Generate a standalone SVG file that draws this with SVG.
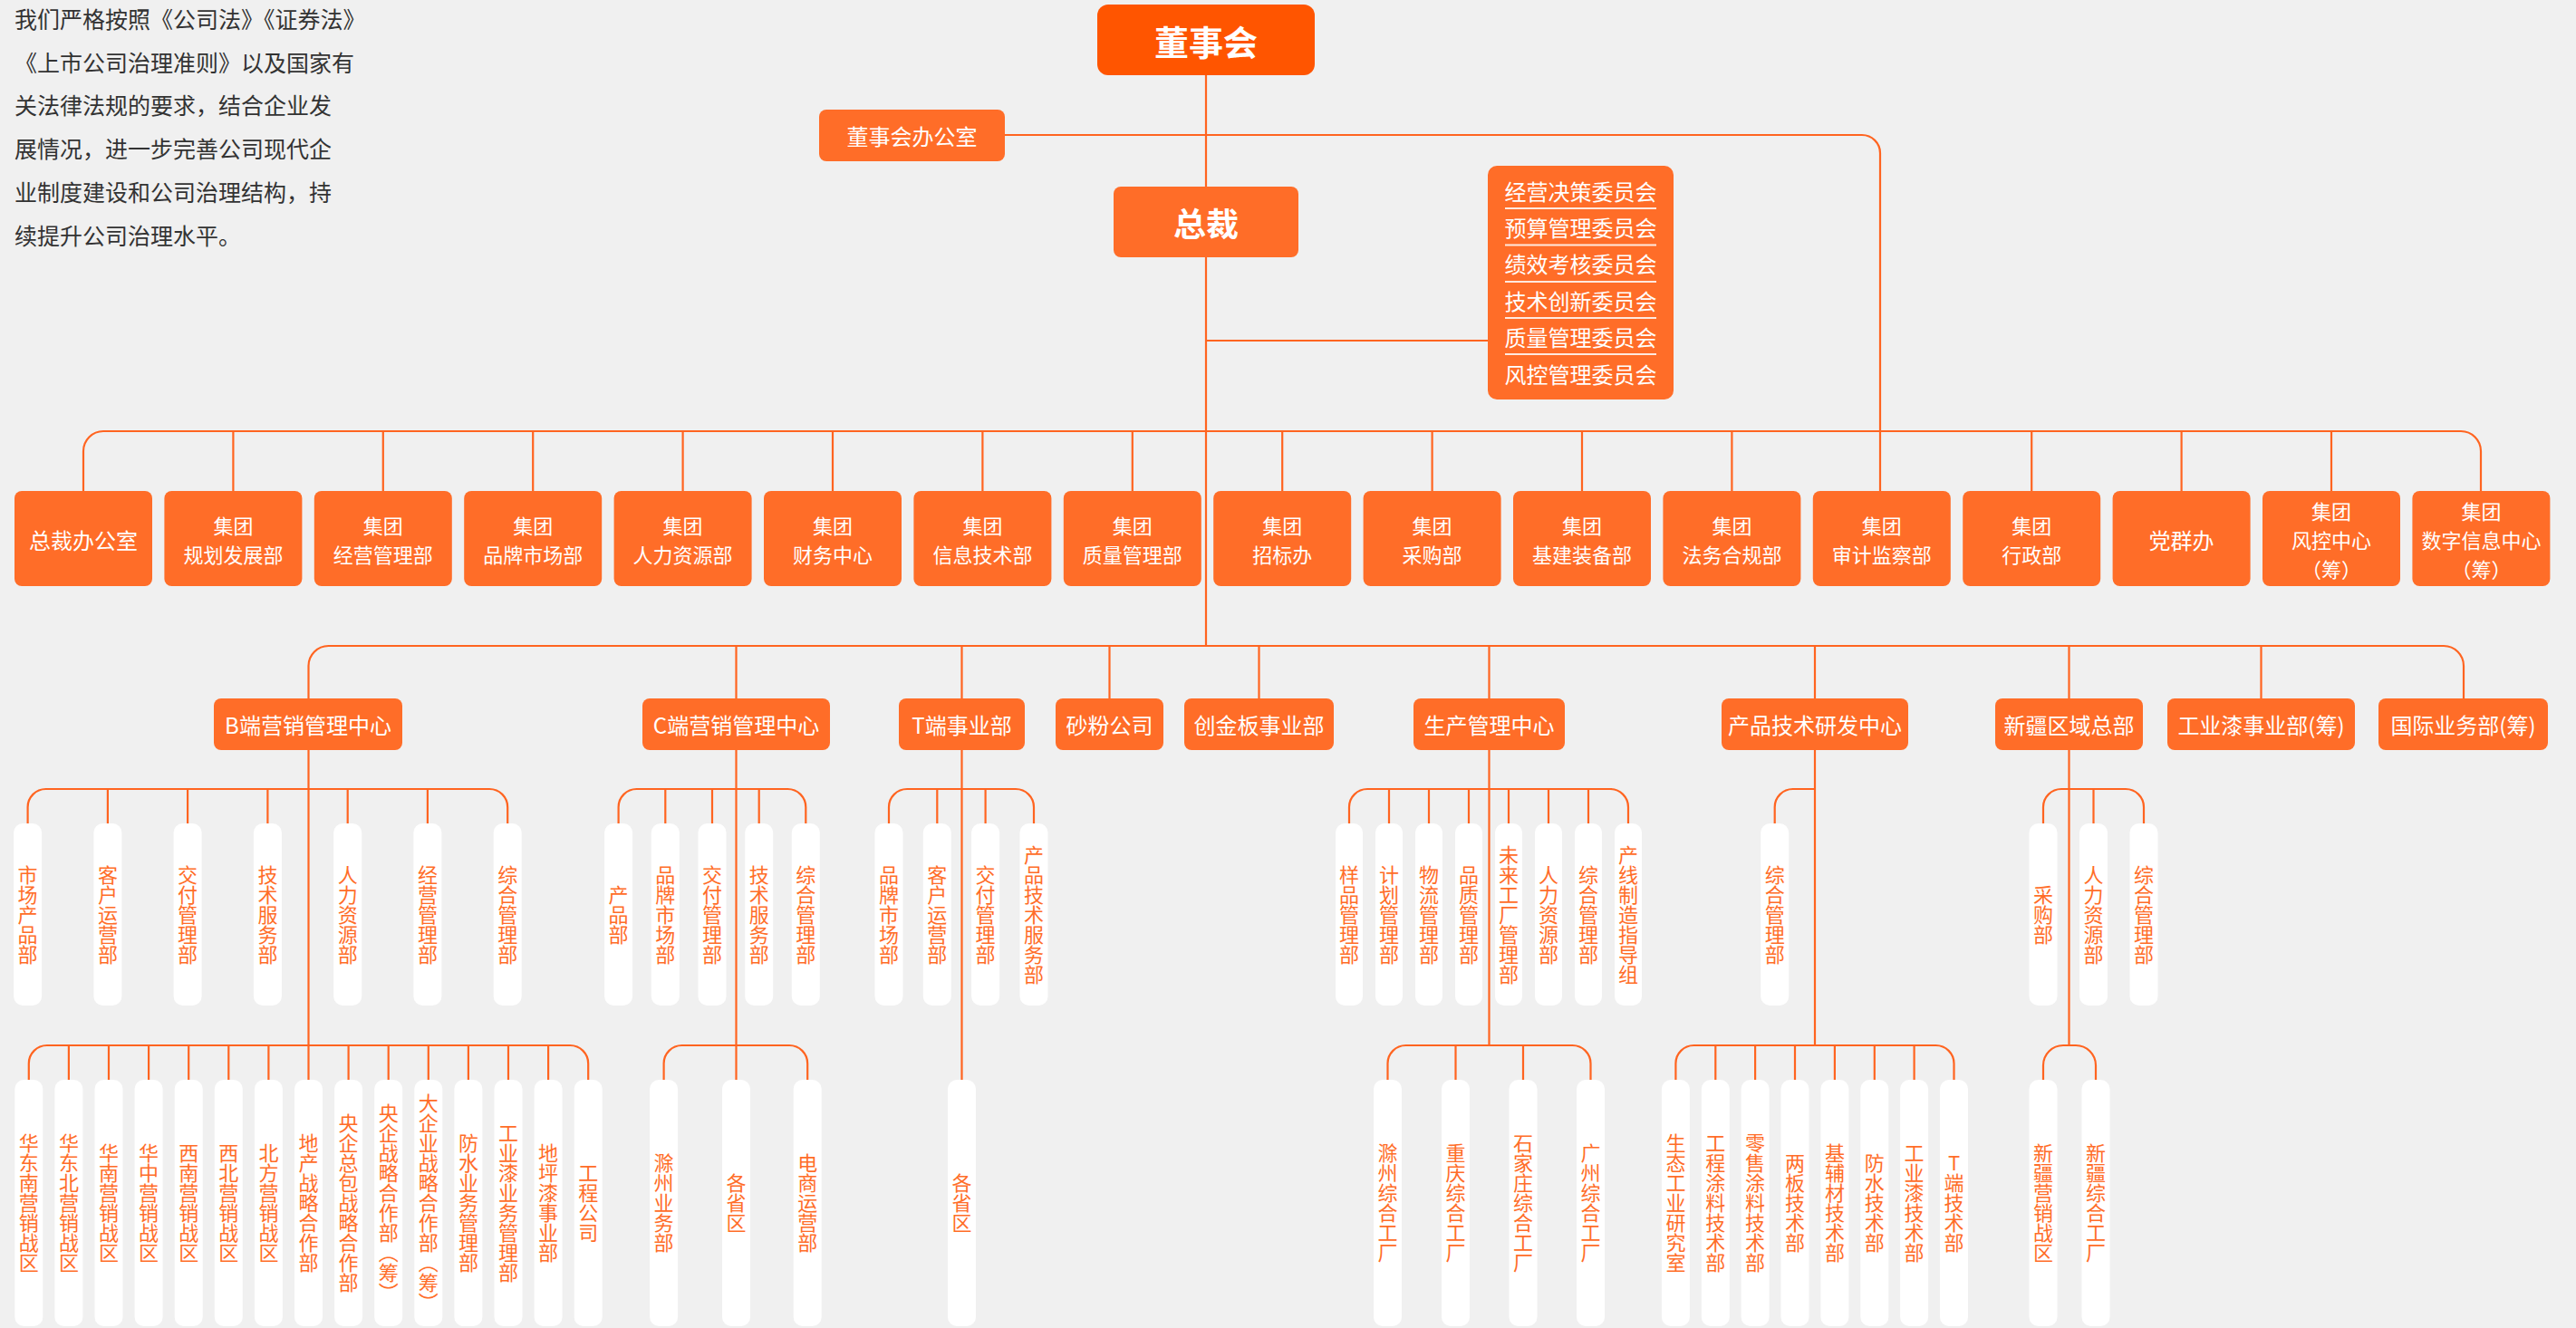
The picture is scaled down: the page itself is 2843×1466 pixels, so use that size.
<svg xmlns="http://www.w3.org/2000/svg" width="2843" height="1466" viewBox="0 0 2843 1466">
<style>
.bg{fill:#f0f0f0}
.box{fill:#ff6d28}
.top{fill:#ff5500}
.pill{fill:#ffffff}
.ln{stroke:#ff6420;stroke-width:2.2;fill:none}
.sep{stroke:#ffffff;stroke-width:2;opacity:0.85}
text{font-family:"Noto Sans CJK SC","Noto Sans",sans-serif}
.t{fill:#ffffff;font-size:24px;text-anchor:middle;dominant-baseline:central}
.d{fill:#ffffff;font-size:22px;text-anchor:middle;dominant-baseline:central}
.tb{fill:#ffffff;font-weight:bold;text-anchor:middle;dominant-baseline:central}
.p{fill:#333333;font-size:25px;dominant-baseline:central}
.v{fill:#ff6d28;font-size:22px;text-anchor:middle;writing-mode:vertical-rl;text-orientation:upright}
</style>
<rect class="bg" x="0" y="0" width="2843" height="1466"/>

<g id="intro">
<text class="p" x="16" y="20">我们严格按照《公司法》《证券法》</text>
<text class="p" x="16" y="67.7">《上市公司治理准则》以及国家有</text>
<text class="p" x="16" y="115.4">关法律法规的要求，结合企业发</text>
<text class="p" x="16" y="163.1">展情况，进一步完善公司现代企</text>
<text class="p" x="16" y="210.8">业制度建设和公司治理结构，持</text>
<text class="p" x="16" y="258.5">续提升公司治理水平。</text>
</g>

<g id="connectors">
<path class="ln" d="M1331,83 V713"/>
<path class="ln" d="M1109,149 H2055 A20,20 0 0 1 2075,169 V542"/>
<path class="ln" d="M1331,376 H1642"/>
<path class="ln" d="M92,542 V498 A22,22 0 0 1 114,476 H2716 A22,22 0 0 1 2738,498 V542"/>
<path class="ln" d="M257.4,476 V542 M422.8,476 V542 M588.2,476 V542 M753.6,476 V542 M919,476 V542 M1084.4,476 V542 M1249.8,476 V542 M1415.2,476 V542 M1580.6,476 V542 M1746,476 V542 M1911.4,476 V542 M2242.2,476 V542 M2407.6,476 V542 M2573,476 V542"/>
<path class="ln" d="M340.5,771 V735 A22,22 0 0 1 362.5,713 H2697 A22,22 0 0 1 2719,735 V771"/>
<path class="ln" d="M812.5,713 V771 M1061.5,713 V771 M1224.5,713 V771 M1389.5,713 V771 M1643.5,713 V771 M2003,713 V771 M2283.5,713 V771 M2495.5,713 V771"/>
<path class="ln" d="M340.5,828 V1192 M812.5,828 V1192 M1061.5,828 V1192 M1643.5,828 V1154 M2003,828 V1154 M2283.5,828 V1154"/>
<path class="ln" d="M30.6,909 V891 A20,20 0 0 1 50.6,871 H540.2 A20,20 0 0 1 560.2,891 V909 M118.9,871 V909 M207.1,871 V909 M295.4,871 V909 M383.7,871 V909 M471.9,871 V909"/>
<path class="ln" d="M682.6,909 V891 A20,20 0 0 1 702.6,871 H869.3 A20,20 0 0 1 889.3,891 V909 M734.3,871 V909 M786,871 V909 M837.7,871 V909"/>
<path class="ln" d="M981,909 V891 A20,20 0 0 1 1001,871 H1121 A20,20 0 0 1 1141,891 V909 M1034.3,871 V909 M1087.6,871 V909"/>
<path class="ln" d="M1489,909 V891 A20,20 0 0 1 1509,871 H1777 A20,20 0 0 1 1797,891 V909 M1533,871 V909 M1577,871 V909 M1621,871 V909 M1665,871 V909 M1709,871 V909 M1753,871 V909"/>
<path class="ln" d="M1958.7,909 V891 A20,20 0 0 1 1978.7,871 H2003"/>
<path class="ln" d="M2255,909 V891 A20,20 0 0 1 2275,871 H2346 A20,20 0 0 1 2366,891 V909 M2310.5,871 V909"/>
<path class="ln" d="M31.8,1192 V1174 A20,20 0 0 1 51.8,1154 H629.2 A20,20 0 0 1 649.2,1174 V1192 M75.9,1154 V1192 M120,1154 V1192 M164.1,1154 V1192 M208.2,1154 V1192 M252.3,1154 V1192 M296.4,1154 V1192 M384.6,1154 V1192 M428.7,1154 V1192 M472.8,1154 V1192 M516.9,1154 V1192 M561,1154 V1192 M605.1,1154 V1192"/>
<path class="ln" d="M732.6,1192 V1174 A20,20 0 0 1 752.6,1154 H871.2 A20,20 0 0 1 891.2,1174 V1192"/>
<path class="ln" d="M1531.5,1192 V1174 A20,20 0 0 1 1551.5,1154 H1735.5 A20,20 0 0 1 1755.5,1174 V1192 M1606.5,1154 V1192 M1681,1154 V1192"/>
<path class="ln" d="M1849.4,1192 V1174 A20,20 0 0 1 1869.4,1154 H2136.5 A20,20 0 0 1 2156.5,1174 V1192 M1893.3,1154 V1192 M1937.1,1154 V1192 M1981,1154 V1192 M2024.9,1154 V1192 M2068.8,1154 V1192 M2112.6,1154 V1192"/>
<path class="ln" d="M2255,1192 V1176 A22,22 0 0 1 2277,1154 H2291 A22,22 0 0 1 2313,1176 V1192"/>
</g>

<g id="board"><rect class="top" x="1211" y="5" width="240" height="78" rx="12"/><text class="tb" x="1331" y="44" font-size="38">董事会</text></g>
<g id="board-office"><rect class="box" x="904" y="121" width="205" height="57" rx="8"/><text class="t" x="1006.5" y="149.5">董事会办公室</text></g>
<g id="president"><rect class="box" x="1229" y="206" width="204" height="78" rx="8"/><text class="tb" x="1331" y="245" font-size="36">总裁</text></g>
<g id="committees"><rect class="box" x="1642" y="183" width="205" height="258" rx="10"/>
<line class="sep" x1="1661" y1="230" x2="1828" y2="230"/><line class="sep" x1="1661" y1="270.5" x2="1828" y2="270.5"/><line class="sep" x1="1661" y1="311" x2="1828" y2="311"/><line class="sep" x1="1661" y1="351" x2="1828" y2="351"/><line class="sep" x1="1661" y1="391" x2="1828" y2="391"/>
<text class="t" x="1744.5" y="210" font-size="23">经营决策委员会</text>
<text class="t" x="1744.5" y="250" font-size="23">预算管理委员会</text>
<text class="t" x="1744.5" y="290.5" font-size="23">绩效考核委员会</text>
<text class="t" x="1744.5" y="331.5" font-size="23">技术创新委员会</text>
<text class="t" x="1744.5" y="371.5" font-size="23">质量管理委员会</text>
<text class="t" x="1744.5" y="412.5" font-size="23">风控管理委员会</text>
</g>

<g id="dept-0"><rect class="box" x="16" y="542" width="152" height="105" rx="8"/><text class="t" x="92" y="595">总裁办公室</text></g>
<g id="dept-1"><rect class="box" x="181.4" y="542" width="152" height="105" rx="8"/><text class="d" x="257.4" y="579">集团</text><text class="d" x="257.4" y="611">规划发展部</text></g>
<g id="dept-2"><rect class="box" x="346.8" y="542" width="152" height="105" rx="8"/><text class="d" x="422.8" y="579">集团</text><text class="d" x="422.8" y="611">经营管理部</text></g>
<g id="dept-3"><rect class="box" x="512.2" y="542" width="152" height="105" rx="8"/><text class="d" x="588.2" y="579">集团</text><text class="d" x="588.2" y="611">品牌市场部</text></g>
<g id="dept-4"><rect class="box" x="677.6" y="542" width="152" height="105" rx="8"/><text class="d" x="753.6" y="579">集团</text><text class="d" x="753.6" y="611">人力资源部</text></g>
<g id="dept-5"><rect class="box" x="843" y="542" width="152" height="105" rx="8"/><text class="d" x="919" y="579">集团</text><text class="d" x="919" y="611">财务中心</text></g>
<g id="dept-6"><rect class="box" x="1008.4" y="542" width="152" height="105" rx="8"/><text class="d" x="1084.4" y="579">集团</text><text class="d" x="1084.4" y="611">信息技术部</text></g>
<g id="dept-7"><rect class="box" x="1173.8" y="542" width="152" height="105" rx="8"/><text class="d" x="1249.8" y="579">集团</text><text class="d" x="1249.8" y="611">质量管理部</text></g>
<g id="dept-8"><rect class="box" x="1339.2" y="542" width="152" height="105" rx="8"/><text class="d" x="1415.2" y="579">集团</text><text class="d" x="1415.2" y="611">招标办</text></g>
<g id="dept-9"><rect class="box" x="1504.6" y="542" width="152" height="105" rx="8"/><text class="d" x="1580.6" y="579">集团</text><text class="d" x="1580.6" y="611">采购部</text></g>
<g id="dept-10"><rect class="box" x="1670" y="542" width="152" height="105" rx="8"/><text class="d" x="1746" y="579">集团</text><text class="d" x="1746" y="611">基建装备部</text></g>
<g id="dept-11"><rect class="box" x="1835.4" y="542" width="152" height="105" rx="8"/><text class="d" x="1911.4" y="579">集团</text><text class="d" x="1911.4" y="611">法务合规部</text></g>
<g id="dept-12"><rect class="box" x="2000.8" y="542" width="152" height="105" rx="8"/><text class="d" x="2076.8" y="579">集团</text><text class="d" x="2076.8" y="611">审计监察部</text></g>
<g id="dept-13"><rect class="box" x="2166.2" y="542" width="152" height="105" rx="8"/><text class="d" x="2242.2" y="579">集团</text><text class="d" x="2242.2" y="611">行政部</text></g>
<g id="dept-14"><rect class="box" x="2331.6" y="542" width="152" height="105" rx="8"/><text class="t" x="2407.6" y="595">党群办</text></g>
<g id="dept-15"><rect class="box" x="2497" y="542" width="152" height="105" rx="8"/><text class="d" x="2573" y="563">集团</text><text class="d" x="2573" y="595">风控中心</text><text class="d" x="2573" y="627">（筹）</text></g>
<g id="dept-16"><rect class="box" x="2662.4" y="542" width="152" height="105" rx="8"/><text class="d" x="2738.4" y="563">集团</text><text class="d" x="2738.4" y="595">数字信息中心</text><text class="d" x="2738.4" y="627">（筹）</text></g>

<g id="unit-b"><rect class="box" x="236" y="771" width="208" height="57" rx="8"/><text class="t" x="340" y="799.5" font-size="23">B端营销管理中心</text></g>
<g id="unit-c"><rect class="box" x="709" y="771" width="207" height="57" rx="8"/><text class="t" x="812.5" y="799.5" font-size="23">C端营销管理中心</text></g>
<g id="unit-t"><rect class="box" x="992" y="771" width="139" height="57" rx="8"/><text class="t" x="1061.5" y="799.5" font-size="23">T端事业部</text></g>
<g id="unit-sf"><rect class="box" x="1165" y="771" width="119" height="57" rx="8"/><text class="t" x="1224.5" y="799.5" font-size="23">砂粉公司</text></g>
<g id="unit-cj"><rect class="box" x="1307" y="771" width="165" height="57" rx="8"/><text class="t" x="1389.5" y="799.5" font-size="23">创金板事业部</text></g>
<g id="unit-sc"><rect class="box" x="1560" y="771" width="167" height="57" rx="8"/><text class="t" x="1643.5" y="799.5" font-size="23">生产管理中心</text></g>
<g id="unit-cp"><rect class="box" x="1900" y="771" width="206" height="57" rx="8"/><text class="t" x="2003" y="799.5" font-size="23">产品技术研发中心</text></g>
<g id="unit-xj"><rect class="box" x="2202" y="771" width="163" height="57" rx="8"/><text class="t" x="2283.5" y="799.5" font-size="23">新疆区域总部</text></g>
<g id="unit-gy"><rect class="box" x="2392" y="771" width="207" height="57" rx="8"/><text class="t" x="2495.5" y="799.5" font-size="23">工业漆事业部(筹)</text></g>
<g id="unit-gj"><rect class="box" x="2625" y="771" width="187" height="57" rx="8"/><text class="t" x="2718.5" y="799.5" font-size="23">国际业务部(筹)</text></g>

<g id="b-m1"><rect class="pill" x="15.1" y="909" width="31" height="201" rx="10"/><text class="v" x="30.6" y="1009.5">市场产品部</text></g>
<g id="b-m2"><rect class="pill" x="103.4" y="909" width="31" height="201" rx="10"/><text class="v" x="118.9" y="1009.5">客户运营部</text></g>
<g id="b-m3"><rect class="pill" x="191.6" y="909" width="31" height="201" rx="10"/><text class="v" x="207.1" y="1009.5">交付管理部</text></g>
<g id="b-m4"><rect class="pill" x="279.9" y="909" width="31" height="201" rx="10"/><text class="v" x="295.4" y="1009.5">技术服务部</text></g>
<g id="b-m5"><rect class="pill" x="368.2" y="909" width="31" height="201" rx="10"/><text class="v" x="383.7" y="1009.5">人力资源部</text></g>
<g id="b-m6"><rect class="pill" x="456.4" y="909" width="31" height="201" rx="10"/><text class="v" x="471.9" y="1009.5">经营管理部</text></g>
<g id="b-m7"><rect class="pill" x="544.7" y="909" width="31" height="201" rx="10"/><text class="v" x="560.2" y="1009.5">综合管理部</text></g>

<g id="c-m1"><rect class="pill" x="667.1" y="909" width="31" height="201" rx="10"/><text class="v" x="682.6" y="1009.5">产品部</text></g>
<g id="c-m2"><rect class="pill" x="718.8" y="909" width="31" height="201" rx="10"/><text class="v" x="734.3" y="1009.5">品牌市场部</text></g>
<g id="c-m3"><rect class="pill" x="770.5" y="909" width="31" height="201" rx="10"/><text class="v" x="786" y="1009.5">交付管理部</text></g>
<g id="c-m4"><rect class="pill" x="822.2" y="909" width="31" height="201" rx="10"/><text class="v" x="837.7" y="1009.5">技术服务部</text></g>
<g id="c-m5"><rect class="pill" x="873.8" y="909" width="31" height="201" rx="10"/><text class="v" x="889.3" y="1009.5">综合管理部</text></g>

<g id="t-m1"><rect class="pill" x="965.5" y="909" width="31" height="201" rx="10"/><text class="v" x="981" y="1009.5">品牌市场部</text></g>
<g id="t-m2"><rect class="pill" x="1018.8" y="909" width="31" height="201" rx="10"/><text class="v" x="1034.3" y="1009.5">客户运营部</text></g>
<g id="t-m3"><rect class="pill" x="1072.1" y="909" width="31" height="201" rx="10"/><text class="v" x="1087.6" y="1009.5">交付管理部</text></g>
<g id="t-m4"><rect class="pill" x="1125.5" y="909" width="31" height="201" rx="10"/><text class="v" x="1141" y="1009.5">产品技术服务部</text></g>

<g id="s-m1"><rect class="pill" x="1474" y="909" width="30" height="201" rx="10"/><text class="v" x="1489" y="1009.5">样品管理部</text></g>
<g id="s-m2"><rect class="pill" x="1518" y="909" width="30" height="201" rx="10"/><text class="v" x="1533" y="1009.5">计划管理部</text></g>
<g id="s-m3"><rect class="pill" x="1562" y="909" width="30" height="201" rx="10"/><text class="v" x="1577" y="1009.5">物流管理部</text></g>
<g id="s-m4"><rect class="pill" x="1606" y="909" width="30" height="201" rx="10"/><text class="v" x="1621" y="1009.5">品质管理部</text></g>
<g id="s-m5"><rect class="pill" x="1650" y="909" width="30" height="201" rx="10"/><text class="v" x="1665" y="1009.5">未来工厂管理部</text></g>
<g id="s-m6"><rect class="pill" x="1694" y="909" width="30" height="201" rx="10"/><text class="v" x="1709" y="1009.5">人力资源部</text></g>
<g id="s-m7"><rect class="pill" x="1738" y="909" width="30" height="201" rx="10"/><text class="v" x="1753" y="1009.5">综合管理部</text></g>
<g id="s-m8"><rect class="pill" x="1782" y="909" width="30" height="201" rx="10"/><text class="v" x="1797" y="1009.5">产线制造指导组</text></g>

<g id="p-m1"><rect class="pill" x="1943.2" y="909" width="31" height="201" rx="10"/><text class="v" x="1958.7" y="1009.5">综合管理部</text></g>

<g id="x-m1"><rect class="pill" x="2239.5" y="909" width="31" height="201" rx="10"/><text class="v" x="2255" y="1009.5">采购部</text></g>
<g id="x-m2"><rect class="pill" x="2295" y="909" width="31" height="201" rx="10"/><text class="v" x="2310.5" y="1009.5">人力资源部</text></g>
<g id="x-m3"><rect class="pill" x="2350.5" y="909" width="31" height="201" rx="10"/><text class="v" x="2366" y="1009.5">综合管理部</text></g>

<g id="b-b1"><rect class="pill" x="16.3" y="1192" width="31" height="272" rx="10"/><text class="v" x="31.8" y="1328">华东南营销战区</text></g>
<g id="b-b2"><rect class="pill" x="60.4" y="1192" width="31" height="272" rx="10"/><text class="v" x="75.9" y="1328">华东北营销战区</text></g>
<g id="b-b3"><rect class="pill" x="104.5" y="1192" width="31" height="272" rx="10"/><text class="v" x="120" y="1328">华南营销战区</text></g>
<g id="b-b4"><rect class="pill" x="148.6" y="1192" width="31" height="272" rx="10"/><text class="v" x="164.1" y="1328">华中营销战区</text></g>
<g id="b-b5"><rect class="pill" x="192.7" y="1192" width="31" height="272" rx="10"/><text class="v" x="208.2" y="1328">西南营销战区</text></g>
<g id="b-b6"><rect class="pill" x="236.8" y="1192" width="31" height="272" rx="10"/><text class="v" x="252.3" y="1328">西北营销战区</text></g>
<g id="b-b7"><rect class="pill" x="280.9" y="1192" width="31" height="272" rx="10"/><text class="v" x="296.4" y="1328">北方营销战区</text></g>
<g id="b-b8"><rect class="pill" x="325" y="1192" width="31" height="272" rx="10"/><text class="v" x="340.5" y="1328">地产战略合作部</text></g>
<g id="b-b9"><rect class="pill" x="369.1" y="1192" width="31" height="272" rx="10"/><text class="v" x="384.6" y="1328">央企总包战略合作部</text></g>
<g id="b-b10"><rect class="pill" x="413.2" y="1192" width="31" height="272" rx="10"/><text class="v" x="428.7" y="1328">央企战略合作部（筹）</text></g>
<g id="b-b11"><rect class="pill" x="457.3" y="1192" width="31" height="272" rx="10"/><text class="v" x="472.8" y="1328">大企业战略合作部（筹）</text></g>
<g id="b-b12"><rect class="pill" x="501.4" y="1192" width="31" height="272" rx="10"/><text class="v" x="516.9" y="1328">防水业务管理部</text></g>
<g id="b-b13"><rect class="pill" x="545.5" y="1192" width="31" height="272" rx="10"/><text class="v" x="561" y="1328">工业漆业务管理部</text></g>
<g id="b-b14"><rect class="pill" x="589.6" y="1192" width="31" height="272" rx="10"/><text class="v" x="605.1" y="1328">地坪漆事业部</text></g>
<g id="b-b15"><rect class="pill" x="633.7" y="1192" width="31" height="272" rx="10"/><text class="v" x="649.2" y="1328">工程公司</text></g>

<g id="c-b1"><rect class="pill" x="717.1" y="1192" width="31" height="272" rx="10"/><text class="v" x="732.6" y="1328">滁州业务部</text></g>
<g id="c-b2"><rect class="pill" x="797" y="1192" width="31" height="272" rx="10"/><text class="v" x="812.5" y="1328">各省区</text></g>
<g id="c-b3"><rect class="pill" x="875.7" y="1192" width="31" height="272" rx="10"/><text class="v" x="891.2" y="1328">电商运营部</text></g>

<g id="t-b1"><rect class="pill" x="1046" y="1192" width="31" height="272" rx="10"/><text class="v" x="1061.5" y="1328">各省区</text></g>

<g id="s-b1"><rect class="pill" x="1516" y="1192" width="31" height="272" rx="10"/><text class="v" x="1531.5" y="1328">滁州综合工厂</text></g>
<g id="s-b2"><rect class="pill" x="1591" y="1192" width="31" height="272" rx="10"/><text class="v" x="1606.5" y="1328">重庆综合工厂</text></g>
<g id="s-b3"><rect class="pill" x="1665.5" y="1192" width="31" height="272" rx="10"/><text class="v" x="1681" y="1328">石家庄综合工厂</text></g>
<g id="s-b4"><rect class="pill" x="1740" y="1192" width="31" height="272" rx="10"/><text class="v" x="1755.5" y="1328">广州综合工厂</text></g>

<g id="p-b1"><rect class="pill" x="1833.9" y="1192" width="31" height="272" rx="10"/><text class="v" x="1849.4" y="1328">生态工业研究室</text></g>
<g id="p-b2"><rect class="pill" x="1877.8" y="1192" width="31" height="272" rx="10"/><text class="v" x="1893.3" y="1328">工程涂料技术部</text></g>
<g id="p-b3"><rect class="pill" x="1921.6" y="1192" width="31" height="272" rx="10"/><text class="v" x="1937.1" y="1328">零售涂料技术部</text></g>
<g id="p-b4"><rect class="pill" x="1965.5" y="1192" width="31" height="272" rx="10"/><text class="v" x="1981" y="1328">两板技术部</text></g>
<g id="p-b5"><rect class="pill" x="2009.4" y="1192" width="31" height="272" rx="10"/><text class="v" x="2024.9" y="1328">基辅材技术部</text></g>
<g id="p-b6"><rect class="pill" x="2053.3" y="1192" width="31" height="272" rx="10"/><text class="v" x="2068.8" y="1328">防水技术部</text></g>
<g id="p-b7"><rect class="pill" x="2097.1" y="1192" width="31" height="272" rx="10"/><text class="v" x="2112.6" y="1328">工业漆技术部</text></g>
<g id="p-b8"><rect class="pill" x="2141" y="1192" width="31" height="272" rx="10"/><text class="v" x="2156.5" y="1328">T端技术部</text></g>

<g id="x-b1"><rect class="pill" x="2239.5" y="1192" width="31" height="272" rx="10"/><text class="v" x="2255" y="1328">新疆营销战区</text></g>
<g id="x-b2"><rect class="pill" x="2297.5" y="1192" width="31" height="272" rx="10"/><text class="v" x="2313" y="1328">新疆综合工厂</text></g>
</svg>
